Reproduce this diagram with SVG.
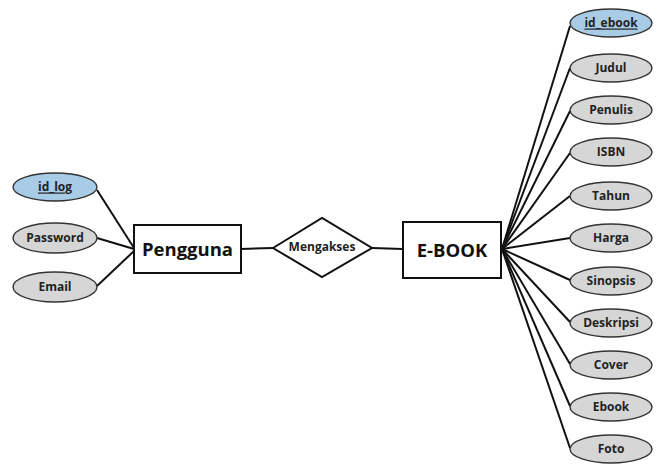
<svg xmlns="http://www.w3.org/2000/svg" width="662" height="464" viewBox="0 0 662 464">
  <style>
    .attr { fill: #d6d6d6; stroke: #333; stroke-width: 1.4; }
    .key { fill: #a9cce6; stroke: #333; stroke-width: 1.4; }
    .ent { fill: #fff; stroke: #111; stroke-width: 2; }
    .lbl { font-family: "Open Sans", "Liberation Sans", sans-serif; font-weight: 700; font-size: 12px; fill: #222; text-anchor: middle; dominant-baseline: central; }
    .klbl { text-decoration: underline; }
    .big { font-family: "Open Sans", "Liberation Sans", sans-serif; font-weight: 700; font-size: 18.5px; fill: #111; text-anchor: middle; dominant-baseline: central; }
    .link { stroke: #111; stroke-width: 2; fill: none; }
  </style>
  <rect width="662" height="464" fill="#fff"/>

  <g id="connectors">
    <line class="link" x1="97" y1="190" x2="134" y2="248"/>
    <line class="link" x1="97" y1="238" x2="134" y2="249"/>
    <line class="link" x1="97" y1="286" x2="134" y2="251"/>
    <line class="link" x1="241" y1="249" x2="273" y2="248"/>
    <line class="link" x1="372" y1="248" x2="403" y2="249"/>
    <line class="link" x1="502" y1="249" x2="570" y2="26"/>
    <line class="link" x1="502" y1="249" x2="570" y2="68"/>
    <line class="link" x1="502" y1="249" x2="570" y2="111"/>
    <line class="link" x1="502" y1="249" x2="570" y2="153"/>
    <line class="link" x1="502" y1="249" x2="570" y2="196"/>
    <line class="link" x1="502" y1="249" x2="570" y2="238"/>
    <line class="link" x1="502" y1="249" x2="570" y2="280"/>
    <line class="link" x1="502" y1="249" x2="570" y2="322"/>
    <line class="link" x1="502" y1="249" x2="570" y2="364"/>
    <line class="link" x1="502" y1="249" x2="570" y2="406"/>
    <line class="link" x1="502" y1="249" x2="570" y2="448"/>
  </g>

  <!-- Pengguna side -->
  <g id="id_log"><ellipse class="key" cx="55" cy="187" rx="42" ry="14"/><text class="lbl klbl" x="55" y="186">id_log</text></g>
  <g id="password"><ellipse class="attr" cx="55" cy="238" rx="42" ry="15"/><text class="lbl" x="55" y="237">Password</text></g>
  <g id="email"><ellipse class="attr" cx="55" cy="287" rx="42" ry="15"/><text class="lbl" x="55" y="286">Email</text></g>
  <g id="pengguna"><rect class="ent" x="134" y="225" width="107" height="48"/><text class="big" x="187.5" y="248">Pengguna</text></g>

  <!-- relationship -->
  <g id="mengakses"><polygon class="ent" points="273,248 322,218 372,248 322,277"/><text class="lbl" x="322" y="246">Mengakses</text></g>

  <!-- E-BOOK side -->
  <g id="ebook-entity"><rect class="ent" x="403" y="222" width="98" height="56"/><text class="big" x="452" y="249">E-BOOK</text></g>
  <g id="id_ebook"><ellipse class="key" cx="611" cy="23" rx="41" ry="14"/><text class="lbl klbl" x="611" y="22">id_ebook</text></g>
  <g id="judul"><ellipse class="attr" cx="611" cy="68" rx="41" ry="14"/><text class="lbl" x="611" y="67">Judul</text></g>
  <g id="penulis"><ellipse class="attr" cx="611" cy="110" rx="41" ry="14"/><text class="lbl" x="611" y="109">Penulis</text></g>
  <g id="isbn"><ellipse class="attr" cx="611" cy="152" rx="41" ry="14"/><text class="lbl" x="611" y="151">ISBN</text></g>
  <g id="tahun"><ellipse class="attr" cx="611" cy="196" rx="41" ry="14"/><text class="lbl" x="611" y="195">Tahun</text></g>
  <g id="harga"><ellipse class="attr" cx="611" cy="238" rx="41" ry="14"/><text class="lbl" x="611" y="237">Harga</text></g>
  <g id="sinopsis"><ellipse class="attr" cx="611" cy="281" rx="41" ry="14"/><text class="lbl" x="611" y="280">Sinopsis</text></g>
  <g id="deskripsi"><ellipse class="attr" cx="611" cy="323" rx="41" ry="14"/><text class="lbl" x="611" y="322">Deskripsi</text></g>
  <g id="cover"><ellipse class="attr" cx="611" cy="365" rx="41" ry="14"/><text class="lbl" x="611" y="364">Cover</text></g>
  <g id="ebook"><ellipse class="attr" cx="611" cy="407" rx="41" ry="14"/><text class="lbl" x="611" y="406">Ebook</text></g>
  <g id="foto"><ellipse class="attr" cx="611" cy="449" rx="41" ry="14"/><text class="lbl" x="611" y="448">Foto</text></g>
</svg>
